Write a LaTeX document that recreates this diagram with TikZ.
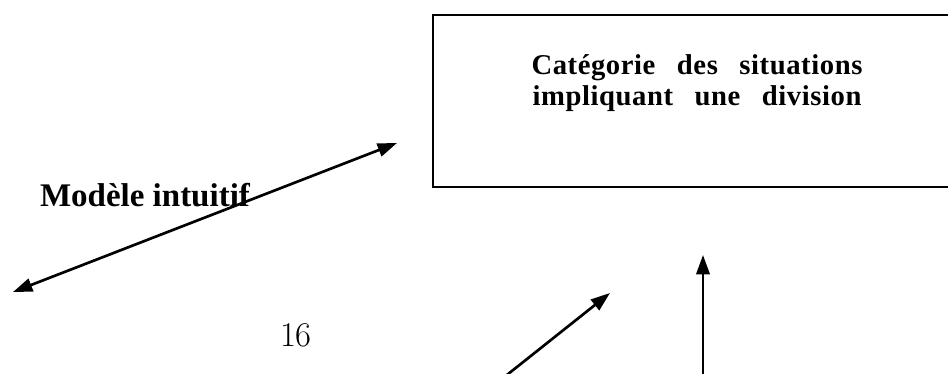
\documentclass[tikz,border=0pt]{standalone}
\usepackage{fontspec}
\newfontfamily\timesfont{Liberation Serif}
\newfontfamily\timesspaced[LetterSpace=2]{Liberation Serif}
\usepackage{tikz}
\usetikzlibrary{arrows.meta}

\tikzset{
	catbox/.style={draw,line width=1.5pt,anchor=north west,minimum width=396pt,minimum height=129pt},
	catlabel/.style={align=center,font={\timesspaced\bfseries\fontsize{21.5}{21.75}\selectfont\spaceskip=0.75em\relax}},
	modellabel/.style={font={\timesfont\bfseries\fontsize{24.75}{30}\selectfont}},
	pagelabel/.style={font={\fontsize{26}{30}\selectfont}},
	arrowline/.style={line width=2pt}
}

\begin{document}
\begin{tikzpicture}[x=0.75pt,y=-0.75pt,every node/.style={inner sep=0,outer sep=0},>={Triangle[length=14.5pt,width=10pt]}]
	\useasboundingbox (0,0) rectangle (948,374);
	\node (cat) [catbox] at (433,15) {};
	\node (catText) [catlabel] at (697,83) {Catégorie des situations\\[2pt]impliquant une division};
	\node (model) [modellabel,anchor=base west] at (40,206) {Modèle intuitif};
	\node (page) [pagelabel,anchor=base west] at (280,346) {16};
	\coordinate (mL) at (13,292);
	\coordinate (mR) at (397,143);
	\coordinate (dS) at (488,390);
	\coordinate (dE) at (610,293);
	\coordinate (vS) at (703,390);
	\coordinate (vE) at (703,255);
    \path[arrowline]
        (mL) edge[<->] (mR)
        (dS) edge[->] (dE)
        (vS) edge[->] (vE);
\end{tikzpicture}
\end{document}
